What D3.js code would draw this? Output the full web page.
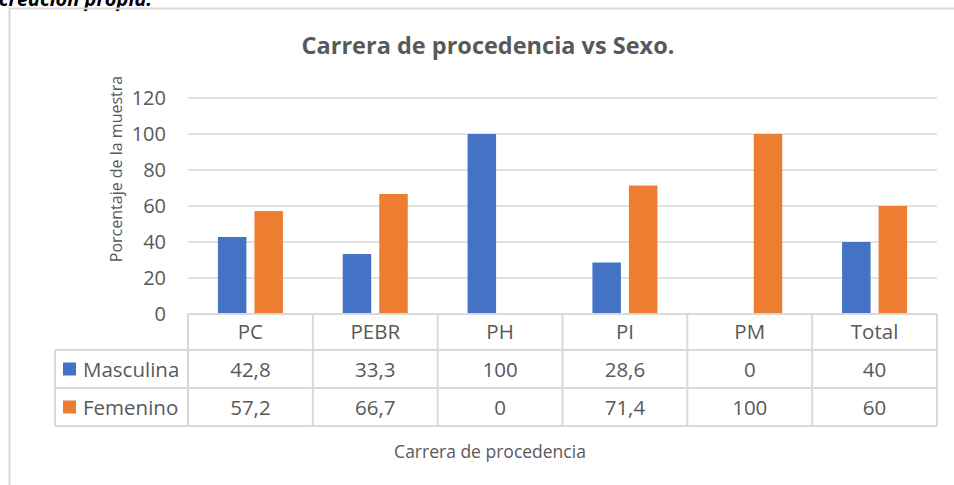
<!DOCTYPE html>
<html>
  <head>
    <meta charset="utf-8">
    <title>Carrera de procedencia vs Sexo</title>
    <script src="https://cdnjs.cloudflare.com/ajax/libs/d3/7.8.5/d3.min.js"></script>
    <style>
      body { margin: 0; background: #fff; }
      svg { display: block; font-family: "Open Sans", sans-serif; }
    </style>
  </head>
  <body>

    <svg class="chart" width="954" height="485"></svg>

    <script>

      var categories = ['PC', 'PEBR', 'PH', 'PI', 'PM', 'Total'];
      var seriesNames = ['Masculina', 'Femenino'];
      var masculina = [42.8, 33.3, 100, 28.6, 0, 40];
      var femenino = [57.2, 66.7, 0, 71.4, 100, 60];
      var yTicks = [0, 20, 40, 60, 80, 100, 120];
      var colors = ['#4472C4', '#ED7D31'];

      var values = [masculina, femenino];

      var svg = d3.select("svg.chart");
      var grey = '#d9d9d9', textCol = '#595959';

      // caption above the chart, cut off by the top edge as in the source
      svg.append("text")
        .attr("x", 152).attr("y", 6)
        .attr("text-anchor", "end")
        .attr("font-size", 20).attr("font-weight", "bold").attr("font-style", "italic")
        .attr("fill", "#000")
        .text("Fuente: creación propia.");

      // chart area border (runs off right and bottom)
      svg.append("rect")
        .attr("x", 9.5).attr("y", 8.5)
        .attr("width", 1000).attr("height", 600)
        .attr("fill", "none").attr("stroke", grey).attr("stroke-width", 2);

      var x0 = d3.scaleBand().domain(categories).range([188, 937]);
      var x1 = d3.scaleBand().domain(seriesNames)
        .range([(x0.bandwidth() - 65) / 2, (x0.bandwidth() + 65) / 2])
        .paddingInner(0.22);
      var y = d3.scaleLinear().domain([0, 120]).range([314, 98]);

      // gridlines
      svg.append("g")
        .selectAll("line")
        .data(yTicks.filter(function(d){ return d > 0; }))
        .enter().append("line")
          .attr("x1", 188).attr("x2", 937)
          .attr("y1", function(d){ return y(d); })
          .attr("y2", function(d){ return y(d); })
          .attr("stroke", grey).attr("stroke-width", 1.5);

      // y axis labels
      var yAxis = d3.axisLeft(y).tickValues(yTicks).tickSize(0).tickPadding(0);
      var yg = svg.append("g")
        .attr("transform", "translate(166,0)")
        .call(yAxis);
      yg.select(".domain").remove();
      yg.selectAll("text")
        .attr("font-family", "Open Sans, sans-serif")
        .attr("font-size", 20).attr("fill", textCol);

      svg.append("text")
        .attr("transform", "translate(122,169) rotate(-90)")
        .attr("text-anchor", "middle")
        .attr("font-size", 16).attr("fill", textCol)
        .text("Porcentaje de la muestra");

      // bars
      var groups = svg.append("g").selectAll("g")
        .data(categories)
        .enter().append("g")
          .attr("transform", function(d){ return "translate(" + x0(d) + ",0)"; });

      groups.selectAll("rect")
        .data(function(d, i){
          return seriesNames.map(function(s, j){ return { s: s, v: values[j][i], c: colors[j] }; });
        })
        .enter().append("rect")
          .attr("x", function(d){ return x1(d.s); })
          .attr("width", x1.bandwidth())
          .attr("y", function(d){ return y(d.v); })
          .attr("height", function(d){ return y(0) - y(d.v); })
          .attr("fill", function(d){ return d.c; });

      // data table
      var rowTops = [314, 350, 388, 426];
      var table = svg.append("g").attr("stroke", grey).attr("stroke-width", 2);
      table.append("line").attr("x1", 188).attr("x2", 937).attr("y1", 314).attr("y2", 314);
      rowTops.slice(1).forEach(function(t){
        table.append("line").attr("x1", 55).attr("x2", 937).attr("y1", t).attr("y2", t);
      });
      x0.domain().concat(['end']).forEach(function(c){
        var xx = c === 'end' ? 937 : x0(c);
        table.append("line").attr("x1", xx).attr("x2", xx).attr("y1", 314).attr("y2", 426);
      });
      table.append("line").attr("x1", 55).attr("x2", 55).attr("y1", 350).attr("y2", 426);

      svg.append("g").selectAll("text")
        .data(categories)
        .enter().append("text")
          .attr("x", function(d){ return x0(d) + x0.bandwidth() / 2; })
          .attr("y", 339)
          .attr("text-anchor", "middle")
          .attr("font-size", 20.5).attr("fill", textCol)
          .text(function(d){ return d; });

      seriesNames.forEach(function(s, j){
        var cy = (rowTops[j + 1] + rowTops[j + 2]) / 2;
        svg.append("rect")
          .attr("x", 63).attr("y", cy - 6.5)
          .attr("width", 13).attr("height", 13)
          .attr("fill", colors[j]);
        svg.append("text")
          .attr("x", 83).attr("y", cy + 7.5)
          .attr("font-size", 20.5).attr("fill", textCol)
          .text(s);
        svg.append("g").selectAll("text")
          .data(values[j])
          .enter().append("text")
            .attr("x", function(d, i){ return x0(categories[i]) + x0.bandwidth() / 2; })
            .attr("y", cy + 7.5)
            .attr("text-anchor", "middle")
            .attr("font-size", 20.5).attr("fill", textCol)
            .text(function(d){ return String(d).replace('.', ','); });
      });

      // titles
      svg.append("text")
        .attr("x", 488).attr("y", 54)
        .attr("text-anchor", "middle")
        .attr("font-size", 23.5).attr("font-weight", "bold").attr("fill", textCol)
        .text("Carrera de procedencia vs Sexo.");

      svg.append("text")
        .attr("x", 490).attr("y", 458)
        .attr("text-anchor", "middle")
        .attr("font-size", 17.5).attr("fill", textCol)
        .text("Carrera de procedencia");

    </script>
  </body>
</html>
